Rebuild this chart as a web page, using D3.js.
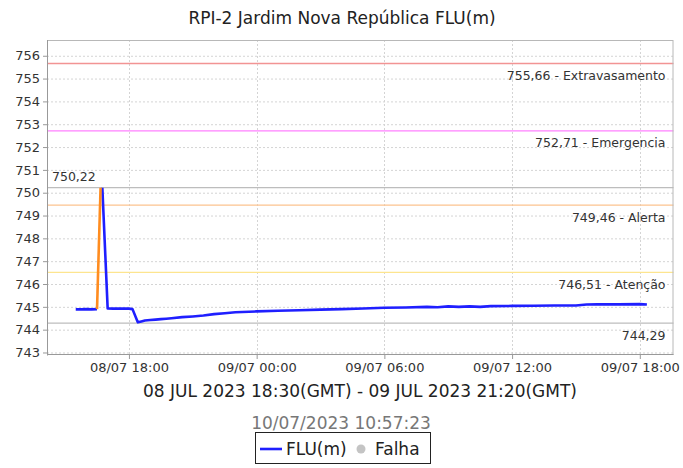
<!DOCTYPE html>
<html><head><meta charset="utf-8">
<script src="https://cdn.jsdelivr.net/npm/d3@7"></script>
<style>
html,body{margin:0;padding:0;background:#fff;}
svg{display:block;font-family:"DejaVu Sans",sans-serif;}
</style></head>
<body><svg id="c" width="683" height="468"></svg>
<script>
const title = "RPI-2 Jardim Nova República FLU(m)";
const xTitle = "08 JUL 2023 18:30(GMT) - 09 JUL 2023 21:20(GMT)";
const stamp = "10/07/2023 10:57:23";
const seriesName = "FLU(m)";
const failName = "Falha";

const times = ["2023-07-08 15:30","2023-07-08 15:45","2023-07-08 16:00","2023-07-08 16:15","2023-07-08 16:30",
 "2023-07-08 16:40",
 "2023-07-08 16:45","2023-07-08 17:00","2023-07-08 17:15","2023-07-08 17:30","2023-07-08 17:45","2023-07-08 18:00","2023-07-08 18:10",
 "2023-07-08 18:25","2023-07-08 18:35","2023-07-08 18:45","2023-07-08 19:00","2023-07-08 19:15","2023-07-08 19:30","2023-07-08 19:45",
 "2023-07-08 20:00","2023-07-08 20:30","2023-07-08 21:00","2023-07-08 21:30","2023-07-08 22:00","2023-07-08 22:30","2023-07-08 23:00",
 "2023-07-09 00:00","2023-07-09 01:00","2023-07-09 02:00","2023-07-09 03:00","2023-07-09 04:00","2023-07-09 05:00","2023-07-09 06:00",
 "2023-07-09 07:00","2023-07-09 08:00","2023-07-09 08:30","2023-07-09 09:00","2023-07-09 09:30","2023-07-09 10:00","2023-07-09 10:30",
 "2023-07-09 11:00","2023-07-09 12:00","2023-07-09 13:00","2023-07-09 14:00","2023-07-09 15:00","2023-07-09 15:30","2023-07-09 16:00",
 "2023-07-09 17:00","2023-07-09 18:00","2023-07-09 18:20"];
const values = [744.89,744.89,744.90,744.89,744.90,
 null,
 750.22,744.93,744.92,744.93,744.92,744.92,744.90,
 744.32,744.36,744.40,744.42,744.44,744.46,744.48,
 744.50,744.55,744.58,744.62,744.68,744.72,744.76,
 744.80,744.83,744.85,744.88,744.90,744.93,744.96,
 744.97,745.00,744.98,745.02,745.00,745.02,745.00,
 745.03,745.04,745.05,745.06,745.06,745.10,745.11,
 745.11,745.12,745.10];

const failTimes = ["2023-07-08 16:30","2023-07-08 16:40"];
const failValues = [744.90,750.22];

const thresholdValues = [755.66,752.71,749.46,746.51];
const thresholdNames = ["Extravasamento","Emergencia","Alerta","Atenção"];
const thresholdColors = ["#f29494","#ff80ff","#fcc38f","#fde58f"];
const maxValue = 750.22, minValue = 744.29;

const yTicks = d3.range(743,757,1);
const xTickTimes = ["2023-07-08 18:00","2023-07-09 00:00","2023-07-09 06:00","2023-07-09 12:00","2023-07-09 18:00"];

const parse = d3.timeParse("%Y-%m-%d %H:%M");
const fmtNum = v => v.toFixed(2).replace(".", ",");

const svg = d3.select("#c");
const L=47, R=673.5, T=40, B=355;
const x = d3.scaleTime().domain([parse("2023-07-08 14:09"), parse("2023-07-09 19:35")]).range([L,R]);
const y = d3.scaleLinear().domain([742.89, 756.69]).range([B,T]);

svg.append("rect").attr("width",683).attr("height",468).attr("fill","#fff");

// title
svg.append("text").attr("x",342).attr("y",24).attr("text-anchor","middle")
 .attr("font-size",17).attr("fill","#222").text(title);

// grid
const g = svg.append("g");
g.selectAll(".gy").data(yTicks).enter().append("line")
 .attr("x1",L).attr("x2",R).attr("y1",d=>y(d)+0.5).attr("y2",d=>y(d)+0.5)
 .attr("stroke","#d4d4d4").attr("stroke-dasharray","2,2");
g.selectAll(".gx").data(xTickTimes.map(parse)).enter().append("line")
 .attr("y1",T).attr("y2",B).attr("x1",d=>Math.round(x(d))+0.5).attr("x2",d=>Math.round(x(d))+0.5)
 .attr("stroke","#d4d4d4").attr("stroke-dasharray","2,2");

// thresholds
thresholdValues.forEach((v,i)=>{
  svg.append("line").attr("x1",L).attr("x2",R).attr("y1",y(v)).attr("y2",y(v))
   .attr("stroke",thresholdColors[i]).attr("stroke-width",1.3);
  svg.append("text").attr("x",R-8).attr("y",y(v)+16.5).attr("text-anchor","end")
   .attr("font-size",12.5).attr("fill","#333").text(fmtNum(v)+" - "+thresholdNames[i]);
});
// max/min lines
[maxValue,minValue].forEach(v=>{
  svg.append("line").attr("x1",L).attr("x2",R).attr("y1",y(v)).attr("y2",y(v))
   .attr("stroke","#bdbdbd").attr("stroke-width",1.2);
});
svg.append("text").attr("x",L+5).attr("y",y(maxValue)-7).attr("font-size",12.5).attr("fill","#333").text(fmtNum(maxValue));
svg.append("text").attr("x",R-8).attr("y",y(minValue)+16.5).attr("text-anchor","end").attr("font-size",12.5).attr("fill","#333").text(fmtNum(minValue));

// series
const data = times.map((t,i)=>({t:parse(t), v:values[i]}));
const line = d3.line().defined(d=>d.v!==null).x(d=>x(d.t)).y(d=>y(d.v));
svg.append("path").datum(data).attr("d",line).attr("fill","none").attr("stroke","#1f1fff").attr("stroke-width",2.6).attr("stroke-linejoin","round");
const fdata = failTimes.map((t,i)=>({t:parse(t), v:failValues[i]}));
svg.append("path").datum(fdata).attr("d",line).attr("fill","none").attr("stroke","#ff8c1f").attr("stroke-width",2.6);

// border
svg.append("rect").attr("x",L+0.5).attr("y",T+0.5).attr("width",R-L-1).attr("height",B-T-1)
 .attr("fill","none").attr("stroke","#b8b8b8");
svg.append("line").attr("x1",L+0.5).attr("x2",L+0.5).attr("y1",T).attr("y2",B+0.5).attr("stroke","#999");
svg.append("line").attr("x1",L).attr("x2",R).attr("y1",B-0.5).attr("y2",B-0.5).attr("stroke","#999");

// axes
const yAxis = d3.axisLeft(y).tickValues(yTicks).tickSize(4).tickPadding(3).tickFormat(d3.format("d"));
const ya = svg.append("g").attr("transform",`translate(${L},0)`).call(yAxis);
ya.select(".domain").remove();
ya.selectAll("line").attr("stroke","#999");
ya.selectAll("text").attr("font-size",13).attr("fill","#333").attr("font-family","DejaVu Sans");

const xAxis = d3.axisBottom(x).tickValues(xTickTimes.map(parse)).tickSize(4).tickPadding(4).tickFormat(d3.timeFormat("%d/%m %H:%M"));
const xa = svg.append("g").attr("transform",`translate(0,${B})`).call(xAxis);
xa.select(".domain").remove();
xa.selectAll("line").attr("stroke","#999");
xa.selectAll("text").attr("font-size",13).attr("fill","#333").attr("font-family","DejaVu Sans");

// x title, stamp
svg.append("text").attr("x",360).attr("y",397).attr("text-anchor","middle").attr("font-size",17).attr("fill","#222").text(xTitle);
svg.append("text").attr("x",341).attr("y",429).attr("text-anchor","middle").attr("font-size",17).attr("fill","#777").text(stamp);

// legend
const lg = svg.append("g");
lg.append("rect").attr("x",255.5).attr("y",432.5).attr("width",175).attr("height",31).attr("fill","#fff").attr("stroke","#222");
lg.append("line").attr("x1",260).attr("x2",282).attr("y1",449).attr("y2",449).attr("stroke","#1f1fff").attr("stroke-width",2.6);
lg.append("text").attr("x",286).attr("y",455).attr("font-size",17).attr("fill","#222").text(seriesName);
lg.append("circle").attr("cx",361).attr("cy",449).attr("r",4.5).attr("fill","#c4c4c4");
lg.append("text").attr("x",375).attr("y",455).attr("font-size",17).attr("fill","#222").text(failName);
</script></body></html>
